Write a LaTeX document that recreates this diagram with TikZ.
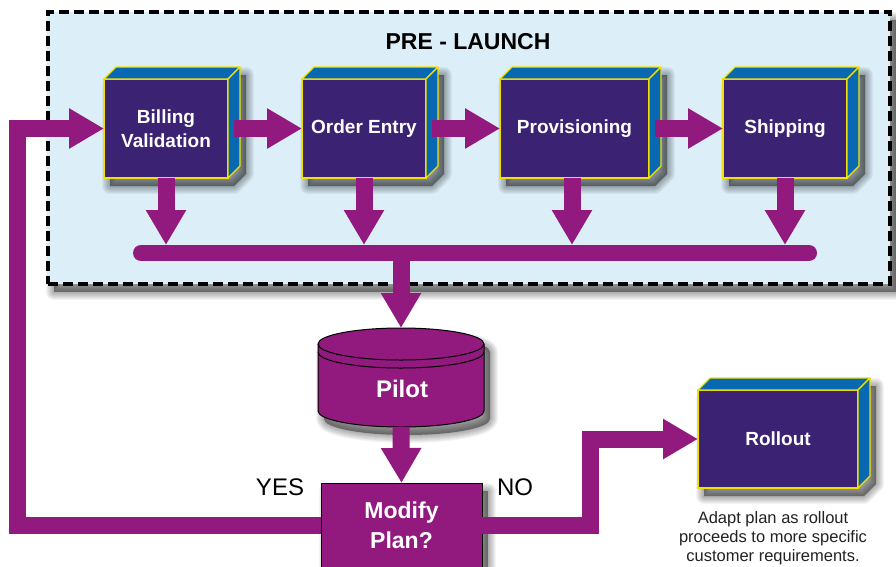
\documentclass[tikz,border=0pt]{standalone}
\usepackage{fontspec}
\setmainfont{Liberation Sans}
\usetikzlibrary{arrows.meta}

\definecolor{cStage}{HTML}{DCEEF8}
\definecolor{cFront}{HTML}{3B2273}
\definecolor{cSide}{HTML}{0868B2}
\definecolor{cEdge}{HTML}{F2E100}
\definecolor{cFlow}{HTML}{921A7E}
\definecolor{cNote}{HTML}{222222}

\tikzset{
  facefront/.style={rectangle, fill=cFront, draw=cEdge, line width=1.2pt,
      inner sep=0pt, outer sep=0pt, text=white, align=center,
      font=\bfseries\fontsize{19}{24}\selectfont},
  faceside/.style={fill=cSide, draw=cEdge, line width=1.2pt, line join=round},
  flow/.style={draw=cFlow, line width=17pt,
      -{Triangle[length=35pt,width=38pt]}},
  bus/.style={draw=cFlow, line width=16pt, line cap=round},
  stagebox/.style={rectangle, fill=cStage, draw=black, line width=3.5pt,
      dash pattern=on 10pt off 5pt, minimum width=842pt, minimum height=272pt,
      inner sep=0pt, outer sep=0pt},
  decision/.style={rectangle, fill=cFlow, draw=black, line width=0.8pt,
      minimum width=161pt, minimum height=84pt, inner sep=0pt, outer sep=0pt,
      text=white, align=center, font=\bfseries\fontsize{23}{30}\selectfont},
  answer/.style={font=\fontsize{24}{28}\selectfont, text=black},
  note/.style={align=center, text=cNote, font=\fontsize{16.5}{18.8}\selectfont},
  shadecore/.style={black, opacity=0.4},
  shadeedge/.style={black, opacity=0.045, line join=round},
}

% soft drop shadow of a closed path, offset down and to the right
\newcommand\dropshade[1]{%
  \begin{scope}[shift={(6,8)}]
    \fill[shadecore] #1;
    \foreach \w in {2,4,...,16}{\draw[shadeedge, line width=\w pt] #1;}
  \end{scope}}

% a solid block: shadow, front face node, top and right faces
\newcommand\solidbox[6]{% name, cx, cy, width, height, label
  \pgfmathsetmacro\bL{#2-#4/2}\pgfmathsetmacro\bR{#2+#4/2}%
  \pgfmathsetmacro\bT{#3-#5/2}\pgfmathsetmacro\bB{#3+#5/2}%
  \dropshade{(\bL,\bB) -- (\bL,\bT) -- (\bL+12,\bT-12) -- (\bR+12,\bT-12)
     -- (\bR+12,\bB-12) -- (\bR,\bB) -- cycle}
  \node[facefront, minimum width=#4pt, minimum height=#5pt] (#1) at (#2,#3) {#6};
  \draw[faceside] (#1.north west) -- ([shift={(12,-12)}]#1.north west)
    -- ([shift={(12,-12)}]#1.north east) -- (#1.north east) -- cycle;
  \draw[faceside] (#1.north east) -- ([shift={(12,-12)}]#1.north east)
    -- ([shift={(12,-12)}]#1.south east) -- (#1.south east) -- cycle;
}

\begin{document}
\begin{tikzpicture}[x=1pt, y=-1pt]
  \useasboundingbox (0,0) rectangle (896,566);
  \clip (0,0) rectangle (896,566);
  \fill[white] (0,0) rectangle (896,566);

  % pre-launch stage frame
  \dropshade{(48,12) rectangle (890,284)}
  \node[stagebox] (stage) at (469,148) {};
  \node[font=\bfseries\fontsize{23}{27}\selectfont] (title) at (468,42) {PRE - LAUNCH};

  % stage blocks
  \solidbox{bv}{166}{128.5}{124}{99}{Billing\\Validation}
  \solidbox{oe}{364}{128.5}{124}{99}{Order Entry}
  \solidbox{pv}{574.5}{128.5}{149}{99}{Provisioning}
  \solidbox{sh}{785}{128.5}{124}{99}{Shipping}
  \solidbox{ro}{778}{439}{160}{98}{Rollout}

  % collecting bar
  \coordinate (busL) at (141,253);
  \coordinate (busR) at (809,253);
  \coordinate (busT) at (0,245);
  \coordinate (busP) at (401,253);
  \draw[bus] (busL) -- (busR);

  % pilot cylinder
  \node[rectangle, inner sep=0pt, outer sep=0pt, minimum width=166pt,
        minimum height=99pt] (pilot) at (401,377.5) {};
  \dropshade{(318,344) -- (318,411)
     arc[start angle=180, end angle=360, x radius=83pt, y radius=16pt]
     -- (484,344)
     arc[start angle=0, end angle=180, x radius=83pt, y radius=16pt] -- cycle}
  \fill[cFlow] (318,344) -- (318,411)
     arc[start angle=180, end angle=360, x radius=83pt, y radius=16pt]
     -- (484,344)
     arc[start angle=0, end angle=180, x radius=83pt, y radius=16pt] -- cycle;
  \draw[black, line width=1pt] (318,344) -- (318,411)
     arc[start angle=180, end angle=360, x radius=83pt, y radius=16pt]
     -- (484,344);
  \draw[black, line width=1pt] (401,344) ellipse[x radius=83pt, y radius=16pt];
  \draw[black, line width=1pt] (318,352)
     arc[start angle=180, end angle=360, x radius=83pt, y radius=16pt];
  \node[text=white, font=\bfseries\fontsize{24}{28}\selectfont] (pilotlabel) at (402,389) {Pilot};

  % decision
  \dropshade{(321,483) rectangle (482,567)}
  \node[decision, anchor=north] (modify) at (401.5,483) {Modify\\Plan?};
  \node[answer] (yes) at (280,487) {YES};
  \node[answer] (no) at (515,487) {NO};

  % rollout note
  \node[note] (rolloutnote) at (773,538) {Adapt plan as rollout\\proceeds to more specific\\customer requirements.};

  % flow between stage blocks
  \draw[flow] ([xshift=6]bv.east) -- (oe.west);
  \draw[flow] ([xshift=6]oe.east) -- (pv.west);
  \draw[flow] ([xshift=6]pv.east) -- (sh.west);

  % blocks into the bar
  \draw[flow] (bv.south) -- (bv.south |- busT);
  \draw[flow] (oe.south) -- (oe.south |- busT);
  \draw[flow] ([xshift=-2.5]pv.south) -- ([xshift=-2.5]pv.south |- busT);
  \draw[flow] (sh.south) -- (sh.south |- busT);

  % bar to pilot, pilot to decision
  \draw[flow] (busP) -- (pilot.north);
  \draw[flow] (pilot.south) -- (modify.north);

  % yes: back to billing validation
  \draw[flow] (modify.west) -- (17.5,525) |- (bv.west);
  % no: on to rollout
  \draw[flow] (modify.east) -- (590,525) |- (ro.west);
\end{tikzpicture}
\end{document}
